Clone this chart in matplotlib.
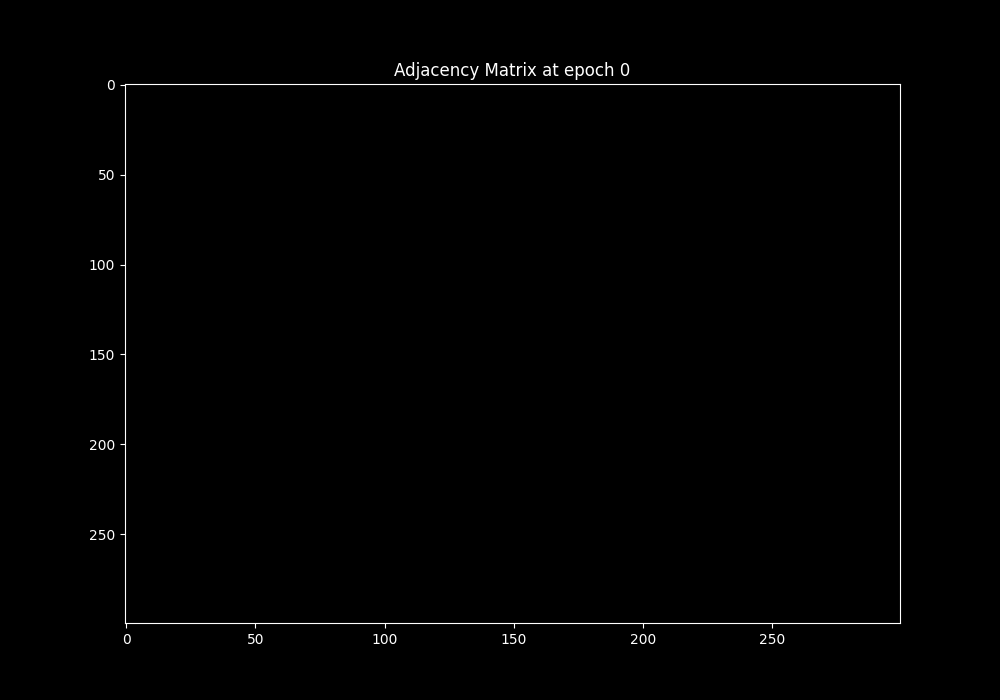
import numpy as np
import matplotlib
matplotlib.use("Agg")
import matplotlib.pyplot as plt

# adjacency at epoch 0: 300 nodes, no edges yet
n_nodes = 300
epoch = 0
adjacency = np.zeros((n_nodes, n_nodes))

plt.style.use("dark_background")
fig, ax = plt.subplots(figsize=(10, 7), dpi=100)
ax.imshow(adjacency, cmap="gray", vmin=0, vmax=1, aspect="auto")
ax.set_title("Adjacency Matrix at epoch {}".format(epoch))
plt.savefig("out.png", dpi=100)
